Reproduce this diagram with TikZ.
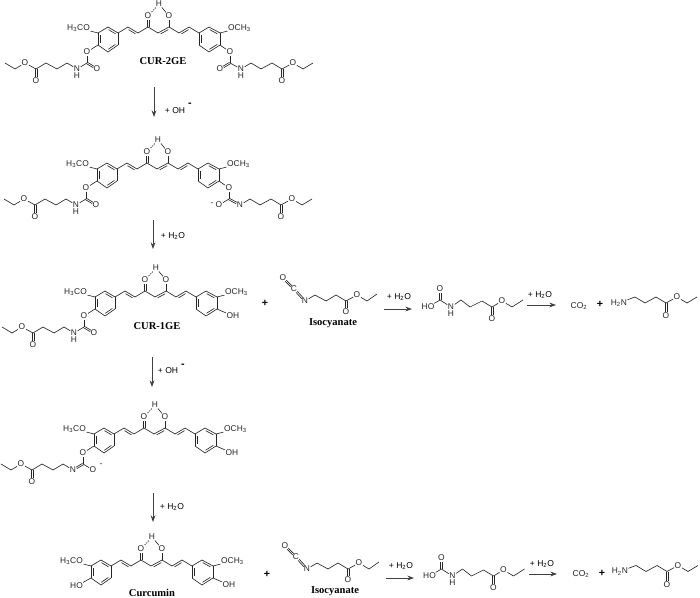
\documentclass[tikz,border=0pt]{standalone}
\usepackage{fontspec}
\setmainfont{Liberation Sans}
\newfontfamily\labelfont{Liberation Serif}
\usetikzlibrary{calc,arrows.meta}
\definecolor{ink}{gray}{0.15}
\tikzset{
  atom/.style={inner sep=0.5pt,outer sep=0pt,font=\fontsize{6.3}{6}\selectfont,text=ink},
  cname/.style={inner sep=0pt,font=\labelfont\bfseries\fontsize{7.9}{8}\selectfont,text=black},
  note/.style={inner sep=0pt,font=\fontsize{6.4}{7}\selectfont,text=black},
  plussign/.style={inner sep=0pt,font=\bfseries\fontsize{8}{8}\selectfont,text=black},
  bond/.style={line width=0.48pt,draw=ink},
  hbond/.style={line width=0.48pt,draw=ink,dash pattern=on 1pt off 0.8pt},
  react/.style={line width=0.55pt,draw=black!75,-{Stealth[length=5pt,width=3.6pt]}}
}
\newcommand\cc[2]{\coordinate (#1) at (#2);}
\newcommand\at[3]{\node[atom] (#1) at (#2) {#3};}
\newcommand\bd[2]{\draw[bond] (#1) -- (#2);}
% double bond to a labelled atom: both strokes stop short of the label
\newcommand\twolines[4]{%
  \draw[bond] ($(#1)!#3!(#2)!0.62pt!90:(#2)$) -- ($(#2)!#4!(#1)!0.62pt!-90:(#1)$);
  \draw[bond] ($(#1)!#3!(#2)!0.62pt!-90:(#2)$) -- ($(#2)!#4!(#1)!0.62pt!90:(#1)$);}
\newcommand\db[2]{\twolines{#1}{#2}{0pt}{3pt}}
\newcommand\dbb[2]{\twolines{#1}{#2}{3pt}{3pt}}
\newcommand\ar[3]{\draw[bond] (#1) -- (#2);\draw[bond] ($(#1)!.15!(#2)!1.5pt!#3:(#2)$) -- ($(#2)!.15!(#1)!1.5pt!-#3:(#1)$);}
% curcumin core, in the frame of the first molecule
\newcommand\core{
  \cc{L1}{118,33}\cc{L2}{118,45}\cc{L3}{108,52}\cc{L4}{98,45}\cc{L5}{98,33}\cc{L6}{108,27}
  \cc{R1}{199,33}\cc{R2}{199,45}\cc{R3}{209,52}\cc{R4}{220,45}\cc{R5}{220,33}\cc{R6}{209,27}
  \cc{V1}{128,27}\cc{V2}{138,33}\cc{K}{148,27}\cc{M}{158,33}\cc{E}{169,27}\cc{V3}{179,33}\cc{V4}{189,27}
  \at{OK}{148,16}{O}\at{OE}{169,16}{O}\at{HH}{159,4}{H}
  \node[atom,anchor=east] (OML) at (90.5,28) {H\textsubscript{3}CO};
  \node[atom,anchor=west] (OMR) at (227.5,28) {OCH\textsubscript{3}};
  \bd{L1}{L2}\ar{L2}{L3}{-90}\bd{L3}{L4}\ar{L4}{L5}{-90}\bd{L5}{L6}\ar{L6}{L1}{-90}
  \bd{R1}{R6}\ar{R6}{R5}{-90}\bd{R5}{R4}\ar{R4}{R3}{-90}\bd{R3}{R2}\ar{R2}{R1}{-90}
  \bd{L1}{V1}\ar{V1}{V2}{-90}\bd{V2}{K}\db{K}{OK}\bd{K}{M}\ar{M}{E}{-90}\bd{E}{OE}\bd{E}{V3}\ar{V3}{V4}{-90}\bd{V4}{R1}
  \bd{HH}{OE}\draw[hbond] (HH) -- (OK);
  \bd{L5}{OML}\bd{R5}{OMR}
}
\newcommand\leftchain{
  \cc{a}{67,63}\cc{b}{57,69}\cc{c}{46,63}\cc{d}{36,69}\cc{g}{15,69}\cc{h}{5,63}
  \at{DO}{36,81}{O}\at{EO}{25,63}{O}
  \bd{LN}{a}\bd{a}{b}\bd{b}{c}\bd{c}{d}\db{d}{DO}\bd{d}{EO}\bd{EO}{g}\bd{g}{h}
}
\newcommand\rightchain{
  \cc{p}{251,63}\cc{q}{261,69}\cc{r}{272,63}\cc{s}{282,69}\cc{t}{303,69}\cc{u}{313,63}
  \at{SO}{282,81}{O}\at{TO}{293,63}{O}
  \bd{RN}{p}\bd{p}{q}\bd{q}{r}\bd{r}{s}\db{s}{SO}\bd{s}{TO}\bd{TO}{t}\bd{t}{u}
}
\newcommand\leftcarb{
  \at{LO}{87,52}{O}\cc{LC}{87,63}
  \bd{L4}{LO}\bd{LO}{LC}
}
\newcommand\rightcarb{
  \at{RO}{230,52}{O}\cc{RC}{230,63}
  \bd{R4}{RO}\bd{RO}{RC}
}
\newcommand\leftNH{\leftcarb\at{LD}{97,69}{O}\at{LN}{77,69}{N}\at{LH}{77,76}{H}\db{LC}{LD}\bd{LC}{LN}\leftchain}
\newcommand\rightNH{\rightcarb\at{RD}{220,69}{O}\at{RN}{241,69}{N}\at{RH}{241,76}{H}\db{RC}{RD}\bd{RC}{RN}\rightchain}
\newcommand\leftanion{\leftcarb\at{LD}{97,69}{O}\at{LN}{77,69}{N}\bd{LC}{LD}\db{LC}{LN}\node[atom] (LM) at (105,64) {-};\leftchain}
\newcommand\rightanion{\rightcarb\at{RD}{220,69}{O}\at{RN}{241,69}{N}\bd{RC}{RD}\db{RC}{RN}\node[atom] (RM) at (213,68) {-};\rightchain}
\newcommand\rightOH{\node[atom,anchor=west] (ROH) at (229,52) {OH};\bd{R4}{ROH}}
\newcommand\leftOH{\node[atom,anchor=east] (LOH) at (90.5,53) {HO};\bd{L4}{LOH}}
% isocyanate, carbamic acid and amine, in the frame of the third row
\newcommand\isoc{
  \at{IO}{283,278}{O}\at{IC}{294,289}{C}\at{IN}{305,301}{N}
  \cc{i1}{315,295}\cc{i2}{326,301}\cc{i3}{336,295}\cc{i4}{346,301}\cc{i5}{367,301}\cc{i6}{377,294}
  \at{ID}{346,312}{O}\at{IE}{357,295}{O}
  \dbb{IO}{IC}\dbb{IC}{IN}\bd{IN}{i1}\bd{i1}{i2}\bd{i2}{i3}\bd{i3}{i4}\db{i4}{ID}\bd{i4}{IE}\bd{IE}{i5}\bd{i5}{i6}
  \node[cname] (ILab) at (333,323) {Isocyanate};
}
\newcommand\acid{
  \at{AH}{428,307}{HO}\cc{AC}{440,300}\at{AO}{440,289}{O}\at{AN}{451,307}{N}\at{AI}{451,314}{H}
  \cc{a1}{461,300}\cc{a2}{470,307}\cc{a3}{482,301}\cc{a4}{492,307}\cc{a5}{512,307}\cc{a6}{523,300}
  \at{AD}{492,319}{O}\at{AE}{502,301}{O}
  \bd{AH}{AC}\db{AC}{AO}\bd{AC}{AN}\bd{AN}{a1}\bd{a1}{a2}\bd{a2}{a3}\bd{a3}{a4}\db{a4}{AD}\bd{a4}{AE}\bd{AE}{a5}\bd{a5}{a6}
}
\newcommand\amine{
  \node[atom,anchor=east] (BN) at (627.5,303) {H\textsubscript{2}N};
  \cc{b1}{635,297}\cc{b2}{645,303}\cc{b3}{656,297}\cc{b4}{666,303}\cc{b5}{687,303}\cc{b6}{697,297}
  \at{BD}{666,316}{O}\at{BE}{677,297}{O}
  \bd{BN}{b1}\bd{b1}{b2}\bd{b2}{b3}\bd{b3}{b4}\db{b4}{BD}\bd{b4}{BE}\bd{BE}{b5}\bd{b5}{b6}
}
\newcommand\water[2]{\node[note] (#1) at (#2) {+ H\textsubscript{2}O};}
\begin{document}
\begin{tikzpicture}[x=0.75pt,y=-0.75pt]
\useasboundingbox (0,0) rectangle (700,598);
% molecule 1
\begin{scope}[name prefix=m1-]
  \core\leftNH\rightNH
  \node[cname] (lab) at (163,61) {CUR-2GE};
\end{scope}
% molecule 2
\begin{scope}[shift={(-1,136)},name prefix=m2-]
  \core\leftNH\rightanion
\end{scope}
% molecule 3
\begin{scope}[shift={(-3,264)},name prefix=m3-]
  \core\leftNH\rightOH
  \node[cname] (lab) at (160,62) {CUR-1GE};
\end{scope}
% molecule 4
\begin{scope}[shift={(-4,401)},name prefix=m4-]
  \core\leftanion\rightOH
\end{scope}
% molecule 5
\begin{scope}[shift={(-7,533)},name prefix=m5-]
  \core\leftOH\rightOH
  \node[cname] (lab) at (159,60) {Curcumin};
\end{scope}
% vertical arrows
\coordinate (v1s) at (154,87);\coordinate (v1e) at (154,117);
\coordinate (v2s) at (153,220);\coordinate (v2e) at (153,249);
\coordinate (v3s) at (152,357);\coordinate (v3e) at (152,387);
\coordinate (v4s) at (153,493);\coordinate (v4e) at (153,522);
\draw[react] (v1s) -- (v1e);\draw[react] (v2s) -- (v2e);\draw[react] (v3s) -- (v3e);\draw[react] (v4s) -- (v4e);
\node[note] (t1) at (175,110.5) {+ OH};\node[plussign] (t1m) at (190,105) {-};
\water{t2}{173,236}
\node[note] (t3) at (168,370.5) {+ OH};\node[plussign] (t3m) at (183,366) {-};
\water{t4}{172,507}
% row three
\node[plussign] (p1) at (265,303) {+};
\begin{scope}[name prefix=r3-]
  \isoc\acid\amine
  \coordinate (h1s) at (384,309);\coordinate (h1e) at (412,309);
  \coordinate (h2s) at (527,305);\coordinate (h2e) at (556,305);
  \draw[react] (h1s) -- (h1e);\draw[react] (h2s) -- (h2e);
  \water{w1}{399,297}\water{w2}{540,295}
  \node[atom,font=\fontsize{6.4}{7}\selectfont] (co) at (579,306) {CO\textsubscript{2}};
  \node[plussign] (p2) at (600,304) {+};
\end{scope}
% bottom row
\node[plussign] (p3) at (267,574) {+};
\begin{scope}[shift={(2,268)},name prefix=r5i-]\isoc\end{scope}
\begin{scope}[shift={(1.5,269)},name prefix=r5a-]\acid\end{scope}
\begin{scope}[shift={(1,268.5)},name prefix=r5b-]\amine\end{scope}
\begin{scope}[shift={(2,269)},name prefix=r5-]
  \coordinate (h1s) at (384,309);\coordinate (h1e) at (412,309);
  \coordinate (h2s) at (527,305);\coordinate (h2e) at (555,305);
  \draw[react] (h1s) -- (h1e);\draw[react] (h2s) -- (h2e);
  \water{w1}{399,297}\water{w2}{540,295}
  \node[atom,font=\fontsize{6.4}{7}\selectfont] (co) at (579,305) {CO\textsubscript{2}};
  \node[plussign] (p2) at (600,304) {+};
\end{scope}
\end{tikzpicture}
\end{document}
